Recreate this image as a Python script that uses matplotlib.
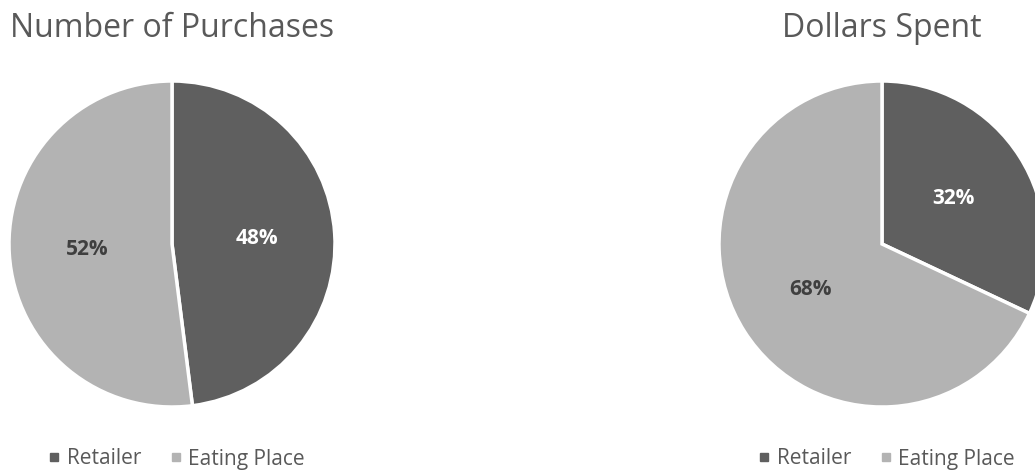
import matplotlib
matplotlib.use("Agg")
import matplotlib.pyplot as plt
from matplotlib.lines import Line2D

plt.rcParams['font.family'] = ['Open Sans', 'DejaVu Sans']

categories = ["Retailer", "Eating Place"]
purchases_pct = [48, 52]
dollars_pct = [32, 68]
titles = ["Number of Purchases", "Dollars Spent"]
colors = ["#5f5f5f", "#b3b3b3"]
label_colors = ["white", "#3f3f3f"]

W, H = 1035, 472
fig = plt.figure(figsize=(W / 100, H / 100), dpi=100)
fig.patch.set_facecolor("white")

R = 163
centers = [(172, 244), (882, 244)]

for i, (vals, title) in enumerate(zip([purchases_pct, dollars_pct], titles)):
    cx, cy = centers[i]
    ax = fig.add_axes([(cx - R) / W, (H - cy - R) / H, 2 * R / W, 2 * R / H])
    wedges, _, autotexts = ax.pie(
        vals, colors=colors, startangle=90, counterclock=False,
        wedgeprops=dict(edgecolor="white", linewidth=2.5),
        autopct=lambda p: f"{p:.0f}%", pctdistance=0.52, radius=1.0,
        textprops=dict(fontsize=15, fontweight="bold"))
    for t, c in zip(autotexts, label_colors):
        t.set_color(c)
    ax.set_xlim(-1, 1)
    ax.set_ylim(-1, 1)
    ax.set_aspect("equal")
    ax.axis("off")
    fig.text(cx / W, 1 - 37 / H, title, ha="center", va="baseline",
             fontsize=23, color="#595959")
    handles = [Line2D([], [], marker="s", linestyle="none", markersize=5.8,
                      markerfacecolor=c, markeredgecolor=c) for c in colors]
    fig.legend(handles, categories, loc="center",
               bbox_to_anchor=((cx + 5) / W, 1 - 459 / H),
               ncol=2, frameon=False, fontsize=15, labelcolor="#595959",
               handlelength=0.5, handletextpad=0.35, columnspacing=1.4,
               borderpad=0.0, borderaxespad=0.0)

fig.savefig("out.png", dpi=100, facecolor="white")
